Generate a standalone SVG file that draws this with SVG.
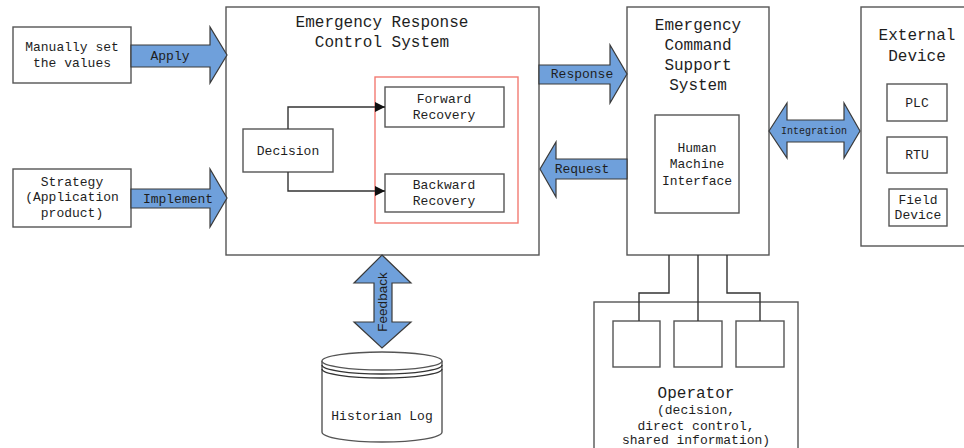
<svg xmlns="http://www.w3.org/2000/svg" width="964" height="448" viewBox="0 0 964 448">
<defs>
<style>
.box{fill:#fff;stroke:#555;stroke-width:1.4}
.t{font-family:"Liberation Mono","Courier New",monospace;font-size:13px;fill:#1e1e1e;text-anchor:middle}
.big{font-size:16px}
.sm{font-size:10px}
.blk{fill:#6fa0db;stroke:#3a3a3a;stroke-width:1.2}
.ln{fill:none;stroke:#333;stroke-width:1.4}
</style>
<marker id="ah" viewBox="0 0 10 10" refX="10" refY="5" markerWidth="10" markerHeight="10" markerUnits="userSpaceOnUse" orient="auto">
<path d="M0,0 L10,5 L0,10 z" fill="#111"/>
</marker>
</defs>
<rect width="964" height="448" fill="#fff"/>

<g id="manual">
<rect class="box" x="13" y="27" width="118" height="56"/>
<text class="t" x="72" y="51">Manually set</text>
<text class="t" x="72" y="67">the values</text>
</g>
<g id="strategy">
<rect class="box" x="13" y="169" width="118" height="58"/>
<text class="t" x="72" y="186">Strategy</text>
<text class="t" x="72" y="201">(Application</text>
<text class="t" x="72" y="217">product)</text>
</g>

<g id="ercs">
<rect class="box" x="226" y="7" width="313" height="248"/>
<text class="t big" x="382" y="27">Emergency Response</text>
<text class="t big" x="382" y="47">Control System</text>
</g>
<g id="recovery-group">
<rect x="375" y="77" width="143" height="146" fill="none" stroke="#f27b72" stroke-width="1.4"/>
</g>
<g id="decision">
<rect class="box" x="243" y="129" width="90" height="43"/>
<text class="t" x="288" y="155">Decision</text>
</g>
<g id="forward">
<rect class="box" x="385" y="87" width="119" height="40"/>
<text class="t" x="444" y="103">Forward</text>
<text class="t" x="444" y="119">Recovery</text>
</g>
<g id="backward">
<rect class="box" x="385" y="174" width="119" height="38"/>
<text class="t" x="444" y="189">Backward</text>
<text class="t" x="444" y="205">Recovery</text>
</g>

<g id="ecss">
<rect class="box" x="627" y="7" width="142" height="248"/>
<text class="t big" x="698" y="30">Emergency</text>
<text class="t big" x="698" y="50">Command</text>
<text class="t big" x="698" y="70">Support</text>
<text class="t big" x="698" y="90">System</text>
</g>
<g id="hmi">
<rect class="box" x="655" y="115" width="84" height="98"/>
<text class="t" x="697" y="152">Human</text>
<text class="t" x="697" y="168">Machine</text>
<text class="t" x="697" y="185">Interface</text>
</g>

<g id="external">
<rect class="box" x="861" y="7" width="130" height="239"/>
<text class="t big" x="917" y="40">External</text>
<text class="t big" x="917" y="61">Device</text>
</g>
<g id="plc">
<rect class="box" x="887" y="84" width="60" height="37"/>
<text class="t" x="917" y="107">PLC</text>
</g>
<g id="rtu">
<rect class="box" x="887" y="137" width="60" height="36"/>
<text class="t" x="917" y="159">RTU</text>
</g>
<g id="field">
<rect class="box" x="889" y="189" width="58" height="37"/>
<text class="t" x="918" y="204">Field</text>
<text class="t" x="918" y="219">Device</text>
</g>

<g id="operator">
<rect class="box" x="594" y="302" width="204" height="160"/>
<rect class="box" x="613" y="321" width="47" height="46"/>
<rect class="box" x="674" y="321" width="48" height="46"/>
<rect class="box" x="736" y="321" width="48" height="46"/>
<text class="t big" x="696" y="398">Operator</text>
<text class="t" x="696" y="414">(decision,</text>
<text class="t" x="696" y="430">direct control,</text>
<text class="t" x="696" y="444">shared information)</text>
</g>

<g id="historian">
<path class="box" d="M322,361 L322,432 A60,10 0 0 0 442,432 L442,361"/>
<ellipse class="box" cx="382" cy="361" rx="60" ry="9"/>
<path class="ln" d="M322,365 A60,9 0 0 0 442,365 M322,369 A60,9 0 0 0 442,369"/>
<text class="t" x="382" y="420">Historian Log</text>
</g>

<g id="connectors">
<path class="ln" d="M288,129 V107 H385" marker-end="url(#ah)"/>
<path class="ln" d="M288,172 V191 H385" marker-end="url(#ah)"/>
<path class="ln" d="M669,255 V293 H639 V321"/>
<path class="ln" d="M698,255 V321"/>
<path class="ln" d="M727,255 V293 H760 V321"/>

<polygon class="blk" points="131,45 210,45 210,27 227,55 210,83 210,67 131,67"/>
<text class="t" x="170" y="60">Apply</text>
<polygon class="blk" points="131,189 210,189 210,169 227,198 210,227 210,208 131,208"/>
<text class="t" x="178" y="203">Implement</text>
<polygon class="blk" points="539,65 610,65 610,45 627,74 610,103 610,84 539,84"/>
<text class="t" x="582" y="78">Response</text>
<polygon class="blk" points="627,159 556,159 556,142 540,169 556,197 556,179 627,179"/>
<text class="t" x="582" y="173">Request</text>
<polygon class="blk" points="769,131 787,103 787,120 844,120 844,103 860,131 844,158 844,142 787,142 787,158"/>
<text class="t sm" x="814" y="134">Integration</text>
<polygon class="blk" points="382,255 411,283 392,283 392,322 411,322 382,348 354,322 374,322 374,283 354,283"/>
<text font-family="Liberation Sans, Arial, sans-serif" font-size="13.5" fill="#1e1e1e" text-anchor="middle" transform="translate(387,302) rotate(-90)">Feedback</text>
</g>
</svg>
